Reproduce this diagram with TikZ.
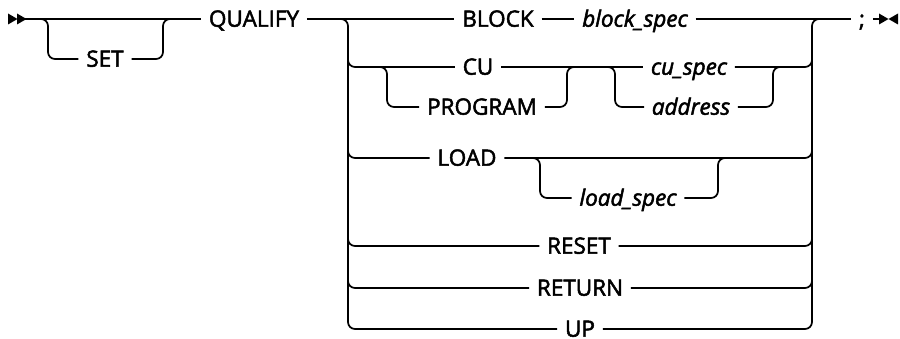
\documentclass[tikz,border=0pt]{standalone}
\usepackage{fontspec}
\newfontfamily\kwf[FakeBold=2.2]{Open Sans}
\usetikzlibrary{calc}
\tikzset{
  kw/.style={font=\kwf\fontsize{22.5}{26}\selectfont, inner xsep=7pt, inner ysep=0pt, text height=15.4pt, text depth=0pt},
  var/.style={kw, font=\kwf\itshape\fontsize{22.5}{26}\selectfont},
  rail/.style={rounded corners=7pt},
  tipfill/.style={fill=black, draw=none}
}
\begin{document}
\begin{tikzpicture}[x=1pt,y=-1pt,line width=1.7pt]
\useasboundingbox (0,0) rectangle (900,339);
% coordinates
\coordinate (s0) at (25,19);
\coordinate (setA) at (48,19);
\coordinate (setB) at (163,19);
\coordinate (L) at (348,19);
\coordinate (R) at (812,19);
\coordinate (g1L) at (387,67);
\coordinate (g1R) at (567,67);
\coordinate (g2L) at (615,67);
\coordinate (g2R) at (773,67);
\coordinate (g3L) at (540,158);
\coordinate (g3R) at (718,158);
\coordinate (e0) at (880,19);
% nodes
\node[kw] (QUALIFY) at (254,19) {QUALIFY};
\node[kw] (SET) at (105,59) {SET};
\node[kw] (BLOCK) at (498,19) {BLOCK};
\node[var] (blockspec) at (635,19) {block\_spec};
\node[kw] (CU) at (478,67) {CU};
\node[kw] (PROGRAM) at (482,107) {PROGRAM};
\node[var] (cuspec) at (689,67) {cu\_spec};
\node[var] (address) at (691,107) {address};
\node[kw] (LOAD) at (467,158) {LOAD};
\node[var] (loadspec) at (628,198) {load\_spec};
\node[kw] (RESET) at (579,246) {RESET};
\node[kw] (RETURN) at (580,288) {RETURN};
\node[kw] (UP) at (580,329) {UP};
\node[kw] (semi) at (862,19) {;};
% start / end markers
\fill[tipfill] (8,13.5) -- (8,24.5) -- (17.5,19) -- cycle;
\fill[tipfill] (17,13.5) -- (17,24.5) -- (26.5,19) -- cycle;
\fill[tipfill] (879,13.5) -- (879,24.5) -- (888.5,19) -- cycle;
\fill[tipfill] (898,13.5) -- (898,24.5) -- (888.5,19) -- cycle;
% main line
\draw (s0) -- (QUALIFY.west);
\draw[rail] ($(setA)+(-8,0)$) -- (setA) |- (SET.west);
\draw[rail] (SET.east) -| (setB) -- ($(setB)+(8,0)$);
\draw (QUALIFY.east) -- (BLOCK.west);
\draw (BLOCK.east) -- (blockspec.west);
\draw (blockspec.east) -- (semi.west);
\draw (semi.east) -- (e0);
% left rail
\draw[rail] ($(L)+(-8,0)$) -- (L) |- (UP.west);
% right rail
\draw[rail] (UP.east) -| (R) -- ($(R)+(8,0)$);
% CU row
\draw[rail] ($(L|-CU)+(0,-10)$) -- (L|-CU) -- (CU.west);
\draw[rail] ($(g1L)+(-8,0)$) -- (g1L) |- (PROGRAM.west);
\draw[rail] (PROGRAM.east) -| (g1R) -- ($(g1R)+(8,0)$);
\draw (CU.east) -- (cuspec.west);
\draw[rail] ($(g2L)+(-8,0)$) -- (g2L) |- (address.west);
\draw[rail] (address.east) -| (g2R) -- ($(g2R)+(8,0)$);
\draw[rail] (cuspec.east) -- (R|-cuspec) -- ($(R|-cuspec)+(0,-10)$);
% LOAD row
\draw[rail] ($(L|-LOAD)+(0,-10)$) -- (L|-LOAD) -- (LOAD.west);
\draw[rail] (LOAD.east) -- (R|-LOAD) -- ($(R|-LOAD)+(0,-10)$);
\draw[rail] ($(g3L)+(-8,0)$) -- (g3L) |- (loadspec.west);
\draw[rail] (loadspec.east) -| (g3R) -- ($(g3R)+(8,0)$);
% RESET row
\draw[rail] ($(L|-RESET)+(0,-10)$) -- (L|-RESET) -- (RESET.west);
\draw[rail] (RESET.east) -- (R|-RESET) -- ($(R|-RESET)+(0,-10)$);
% RETURN row
\draw[rail] ($(L|-RETURN)+(0,-10)$) -- (L|-RETURN) -- (RETURN.west);
\draw[rail] (RETURN.east) -- (R|-RETURN) -- ($(R|-RETURN)+(0,-10)$);
\end{tikzpicture}
\end{document}
